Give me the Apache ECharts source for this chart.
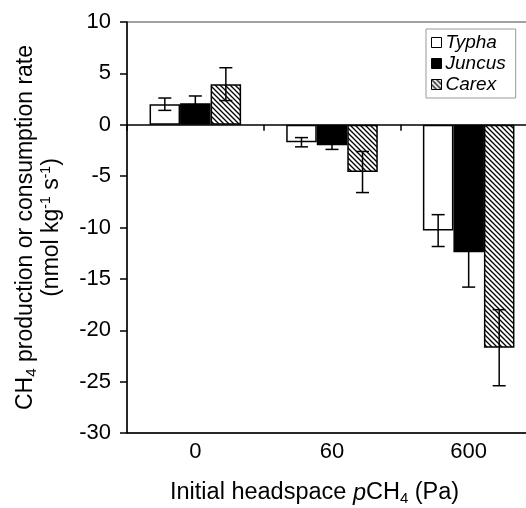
<!DOCTYPE html>
<html>
<head>
<meta charset="utf-8">
<script src="https://cdn.jsdelivr.net/npm/echarts@6/dist/echarts.min.js"></script>
<style>
  html, body { margin: 0; padding: 0; background: #fff; }
  #chart { width: 526px; height: 508px; }
</style>
</head>
<body>
<div id="chart"></div>
<script>
// values (nmol kg-1 s-1)
const categories = ['0', '60', '600'];
const typha = [2.0, -1.7, -10.3];
const typhaErr = [0.6, 0.45, 1.55];
const juncus = [2.1, -2.0, -12.4];
const juncusErr = [0.7, 0.4, 3.4];
const carex = [3.95, -4.6, -21.7];
const carexErr = [1.6, 2.0, 3.7];
const yTicks = { min: -30, max: 10, interval: 5 };

const FONT = 'Liberation Sans, Arial, sans-serif';
const GAP = 0.33;

// diagonal hatch for Carex
const makeHatch = () => {
    const s = 5;
    const c = document.createElement('canvas');
    c.width = s; c.height = s;
    const ctx = c.getContext('2d');
    ctx.fillStyle = '#fff';
    ctx.fillRect(0, 0, s, s);
    ctx.strokeStyle = '#000';
    ctx.lineWidth = 1.3;
    ctx.beginPath();
    ctx.moveTo(-1, -1); ctx.lineTo(s + 1, s + 1);
    ctx.moveTo(s - 1, -1); ctx.lineTo(s + 1, 1);
    ctx.moveTo(-1, s - 1); ctx.lineTo(1, s + 1);
    ctx.stroke();
    return c;
};

const barSeries = (name, data, fill) => ({
    name: name,
    type: 'bar',
    xAxisIndex: 0,
    data: data,
    barGap: '0%',
    barCategoryGap: (GAP * 100) + '%',
    itemStyle: { color: fill, borderColor: '#000', borderWidth: 1.5 },
    z: 2
});

const errSeries = (k, vals, errs) => ({
    type: 'custom',
    xAxisIndex: 0,
    z: 5,
    silent: true,
    data: vals.map((v, i) => [i, v, errs[i]]),
    renderItem: (params, api) => {
        const idx = api.value(0), v = api.value(1), e = api.value(2);
        const band = api.size([1, 0])[0];
        const bw = band * (1 - GAP) / 3;
        const x = api.coord([idx, v])[0] + (k - 1) * bw;
        const yt = api.coord([idx, v + e])[1];
        const yb = api.coord([idx, v - e])[1];
        const cap = 6.5;
        const st = { stroke: '#000', lineWidth: 1.5 };
        return {
            type: 'group',
            children: [
                { type: 'line', shape: { x1: x, y1: yt, x2: x, y2: yb }, style: st },
                { type: 'line', shape: { x1: x - cap, y1: yt, x2: x + cap, y2: yt }, style: st },
                { type: 'line', shape: { x1: x - cap, y1: yb, x2: x + cap, y2: yb }, style: st }
            ]
        };
    }
});

const chart = echarts.init(document.getElementById('chart'));
const hatch = { image: makeHatch(), repeat: 'repeat' };

chart.setOption({
    animation: false,
    backgroundColor: '#fff',
    grid: {
        left: 127, top: 22, right: -11, bottom: 75,
        containLabel: false,
        outerBoundsMode: 'none',
        show: true, borderColor: '#444', borderWidth: 1
    },
    legend: {
        orient: 'vertical',
        left: 426, top: 29,
        width: 92,
        padding: [4, 10, 4, 5],
        itemGap: 2,
        icon: 'rect',
        itemWidth: 10, itemHeight: 10,
        itemStyle: { borderWidth: 1 },
        borderColor: '#999', borderWidth: 1,
        textStyle: { fontFamily: FONT, fontSize: 19, fontStyle: 'italic', color: '#000', lineHeight: 19, padding: [0, 0, 0, -1] },
        data: ['Typha', 'Juncus', 'Carex']
    },
    xAxis: [
        {
            type: 'category',
            data: categories,
            position: 'bottom',
            axisLine: { onZero: false, lineStyle: { color: '#000', width: 1.5 } },
            axisTick: { show: false },
            axisLabel: { fontFamily: FONT, fontSize: 22, color: '#000', margin: 8 }
        },
        {
            type: 'category',
            data: categories,
            position: 'top',
            axisLine: { onZero: true, lineStyle: { color: '#000', width: 1.5 } },
            axisTick: { show: true, inside: true, length: 6, lineStyle: { color: '#000', width: 1.5 } },
            axisLabel: { show: false }
        }
    ],
    yAxis: {
        type: 'value',
        min: yTicks.min, max: yTicks.max, interval: yTicks.interval,
        axisLine: { show: true, onZero: false, lineStyle: { color: '#000', width: 1.5 } },
        axisTick: { show: true, length: 7, lineStyle: { color: '#000', width: 1.5 } },
        splitLine: { show: false },
        axisLabel: { fontFamily: FONT, fontSize: 22, color: '#000', margin: 16 },
        name: 'CH{sub|4} production or consumption rate\n(nmol kg{sup|-1} s{sup|-1})',
        nameLocation: 'middle',
        nameRotate: 90,
        nameGap: 62,
        nameTextStyle: {
            fontFamily: FONT, fontSize: 23, color: '#000', lineHeight: 26, align: 'center',
            rich: {
                sub: { fontFamily: FONT, fontSize: 15, color: '#000', lineHeight: 10, verticalAlign: 'bottom' },
                sup: { fontFamily: FONT, fontSize: 14, color: '#000', lineHeight: 10, verticalAlign: 'top' }
            }
        }
    },
    graphic: [
        {
            type: 'text',
            left: 170, top: 480,
            style: {
                text: 'Initial headspace {it|p}CH{sub|4} (Pa)',
                fontFamily: FONT, fontSize: 23.5, fill: '#000', lineHeight: 26,
                rich: {
                    it: { fontFamily: FONT, fontSize: 23.5, fontStyle: 'italic', fill: '#000', lineHeight: 26 },
                    sub: { fontFamily: FONT, fontSize: 15, fill: '#000', lineHeight: 10, verticalAlign: 'bottom' }
                }
            }
        }
    ],
    series: [
        barSeries('Typha', typha, '#fff'),
        barSeries('Juncus', juncus, '#000'),
        barSeries('Carex', carex, hatch),
        errSeries(0, typha, typhaErr),
        errSeries(1, juncus, juncusErr),
        errSeries(2, carex, carexErr)
    ]
});
</script>
</body>
</html>
